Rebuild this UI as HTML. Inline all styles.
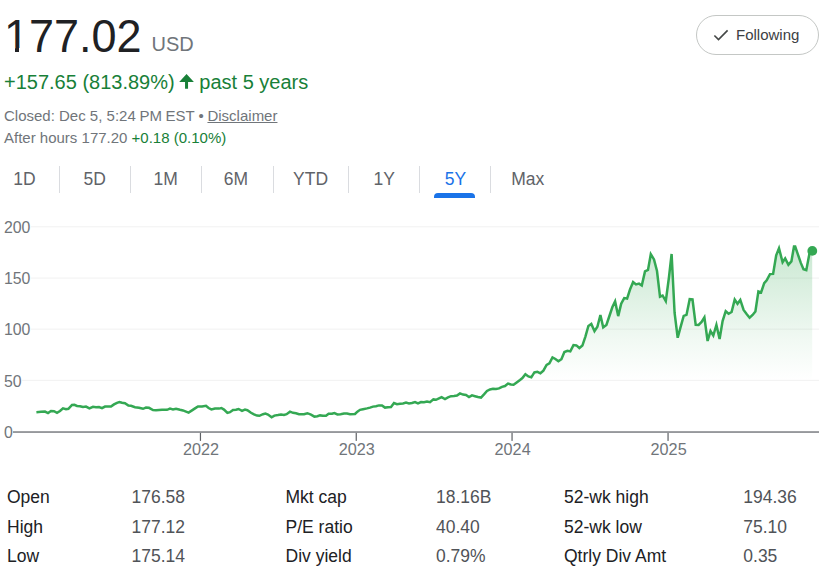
<!DOCTYPE html>
<html><head><meta charset="utf-8"><title>Stock</title>
<style>
html,body{margin:0;padding:0;background:#fff;}
body{width:825px;height:574px;position:relative;overflow:hidden;font-family:"Liberation Sans",sans-serif;}
.t{position:absolute;white-space:nowrap;line-height:1;}
.sep{position:absolute;width:1.25px;background:#dadce0;top:166px;height:27px;}
a{color:inherit;}
</style></head><body>

<div class="t" style="left:4px;top:13.51px;font-size:45px;color:#202124;transform:scaleY(1.041);transform-origin:0 38.09px;">177.02</div>
<div style="position:absolute;left:5px;top:47.6px;width:10.4px;height:5px;background:#fff"></div><div style="position:absolute;left:19.4px;top:47.6px;width:9.6px;height:5px;background:#fff"></div>
<div class="t" style="left:151.5px;top:34.47px;font-size:20px;color:#70757a;transform:scaleY(1.041);transform-origin:0 16.93px;">USD</div>
<div class="t" style="left:4px;top:72.07px;font-size:20px;color:#188038;transform:scaleY(1.041);transform-origin:0 16.93px;">+157.65 (813.89%)</div>
<svg style="position:absolute;left:170px;top:65px" width="40" height="30" viewBox="170 65 40 30"><path d="M179.2 81.9 L186.55 74.0 L193.9 81.9 L188.05 81.9 L188.05 88.8 L185.05 88.8 L185.05 81.9 Z" fill="#188038"/></svg>
<div class="t" style="left:199.3px;top:72.07px;font-size:20px;color:#188038;">past 5 years</div>
<div class="t" style="left:4px;top:108.10px;font-size:15px;color:#70757a;">Closed: Dec 5, <span style="word-spacing:-0.5px">5:24 PM EST</span><span style="margin:0 -0.4px 0 -0.5px"> • </span><span style="text-decoration:underline">Disclaimer</span></div>
<div class="t" style="left:4px;top:129.70px;font-size:15px;color:#70757a;">After hours 177.20 <span style="color:#188038">+0.18 (0.10%)</span></div>
<div style="position:absolute;left:696px;top:15px;width:121px;height:38px;border:1px solid #c4c7c5;border-radius:20px;box-sizing:content-box"></div>
<svg style="position:absolute;left:712px;top:27px" width="18" height="16" viewBox="0 0 18 16"><path d="M2.4 8.5 L6.5 12.6 L15.6 3.4" fill="none" stroke="#444746" stroke-width="1.6"/></svg>
<div class="t" style="left:736px;top:26.60px;font-size:15px;color:#3c4043;">Following</div>
<div class="t" style="left:13.3px;top:171.09px;font-size:17.5px;color:#5f6368;transform:scaleY(1.041);transform-origin:0 14.81px;">1D</div>
<div class="t" style="left:83.6px;top:171.09px;font-size:17.5px;color:#5f6368;transform:scaleY(1.041);transform-origin:0 14.81px;">5D</div>
<div class="t" style="left:153.6px;top:171.09px;font-size:17.5px;color:#5f6368;transform:scaleY(1.041);transform-origin:0 14.81px;">1M</div>
<div class="t" style="left:223.8px;top:171.09px;font-size:17.5px;color:#5f6368;transform:scaleY(1.041);transform-origin:0 14.81px;">6M</div>
<div class="t" style="left:293.1px;top:171.09px;font-size:17.5px;color:#5f6368;transform:scaleY(1.041);transform-origin:0 14.81px;">YTD</div>
<div class="t" style="left:373.5px;top:171.09px;font-size:17.5px;color:#5f6368;transform:scaleY(1.041);transform-origin:0 14.81px;">1Y</div>
<div class="t" style="left:444.8px;top:171.09px;font-size:17.5px;color:#1a73e8;transform:scaleY(1.041);transform-origin:0 14.81px;">5Y</div>
<div class="t" style="left:511.2px;top:171.09px;font-size:17.5px;color:#5f6368;">Max</div>
<div class="sep" style="left:58.7px"></div>
<div class="sep" style="left:129.7px"></div>
<div class="sep" style="left:200.7px"></div>
<div class="sep" style="left:272.7px"></div>
<div class="sep" style="left:347.9px"></div>
<div class="sep" style="left:418.9px"></div>
<div class="sep" style="left:489.8px"></div>
<div style="position:absolute;left:434.4px;top:193.3px;width:40.3px;height:4.4px;background:#1a73e8;border-radius:4px 4px 0 0"></div>
<svg style="position:absolute;left:0;top:0" width="825" height="574" viewBox="0 0 825 574">
<defs><linearGradient id="g" x1="0" y1="244" x2="0" y2="380" gradientUnits="userSpaceOnUse"><stop offset="0" stop-color="#34a853" stop-opacity="0.27"/><stop offset="0.7" stop-color="#34a853" stop-opacity="0.07"/><stop offset="1" stop-color="#34a853" stop-opacity="0"/></linearGradient></defs>
<rect x="4" y="226.2" width="815" height="1.15" fill="#f3f3f3"/>
<rect x="4" y="277.5" width="815" height="1.15" fill="#f3f3f3"/>
<rect x="4" y="328.6" width="815" height="1.15" fill="#f3f3f3"/>
<rect x="4" y="379.8" width="815" height="1.15" fill="#f3f3f3"/>
<path d="M36.4 412.2 L41.0 411.8 L45.0 411.6 L48.0 413.1 L51.0 411.0 L54.0 411.2 L57.0 412.8 L60.0 411.0 L63.0 408.3 L66.0 409.2 L68.4 408.8 L72.0 405.0 L74.4 404.8 L77.0 406.0 L80.0 406.2 L83.0 407.0 L86.0 406.6 L89.4 408.4 L93.0 406.8 L96.0 407.2 L99.0 407.0 L102.0 408.2 L105.0 406.6 L111.0 406.6 L114.0 404.4 L117.0 402.8 L119.4 402.0 L122.0 402.8 L125.0 403.2 L128.4 405.6 L131.0 405.8 L135.0 407.2 L139.0 407.8 L143.0 408.8 L146.0 407.6 L149.0 407.8 L153.0 410.0 L156.0 410.2 L162.0 409.8 L167.0 409.8 L170.0 408.6 L173.0 409.4 L176.0 408.8 L180.0 409.8 L183.0 410.4 L186.0 411.6 L188.6 412.6 L192.0 410.4 L195.0 408.4 L198.0 406.4 L202.0 406.4 L206.0 405.8 L208.6 408.0 L211.4 409.4 L215.0 408.6 L219.0 408.6 L221.4 408.0 L224.0 409.6 L227.4 412.9 L230.0 412.2 L233.0 410.0 L236.0 409.8 L238.6 409.0 L242.0 410.8 L245.0 409.6 L247.4 410.2 L251.0 412.8 L254.0 414.4 L257.0 415.6 L259.4 415.8 L263.0 414.2 L265.4 413.6 L268.0 414.6 L271.6 417.3 L274.4 415.6 L278.0 415.0 L281.0 414.4 L284.0 415.0 L286.6 414.2 L290.0 411.7 L293.0 412.8 L296.0 413.2 L299.0 414.2 L304.0 414.2 L307.4 413.2 L311.0 414.6 L314.4 416.6 L317.4 416.2 L320.0 415.4 L323.0 415.8 L326.0 415.8 L328.6 413.8 L332.0 413.8 L334.4 413.0 L337.4 414.4 L340.6 414.2 L344.0 413.6 L347.0 413.6 L350.0 414.2 L355.0 414.0 L357.4 411.6 L360.0 409.8 L363.0 409.2 L367.0 408.4 L370.0 407.6 L373.0 406.6 L376.0 406.2 L379.0 405.4 L382.0 405.4 L385.0 407.6 L388.0 407.2 L391.0 407.0 L394.0 403.1 L397.0 404.2 L400.0 403.8 L403.0 403.4 L406.0 402.6 L409.0 403.4 L412.0 403.0 L415.0 402.0 L418.0 403.4 L421.0 402.0 L424.0 402.2 L427.0 401.6 L430.0 402.2 L433.4 399.4 L436.0 399.8 L439.0 398.4 L441.6 397.2 L445.0 399.0 L448.0 397.4 L451.0 396.2 L454.0 396.0 L457.0 395.6 L460.0 393.4 L463.0 394.6 L466.0 395.0 L469.0 397.1 L472.0 395.4 L475.0 396.2 L478.0 397.0 L481.0 397.6 L484.0 394.4 L487.0 391.0 L490.0 389.4 L493.0 388.8 L496.0 389.0 L499.0 388.4 L502.0 386.8 L505.0 386.0 L508.0 383.6 L511.0 384.4 L513.6 384.8 L517.0 382.2 L520.0 380.0 L522.4 378.1 L525.4 374.2 L528.4 376.4 L531.3 377.3 L534.4 372.4 L537.4 371.8 L540.4 373.3 L543.4 370.6 L546.6 365.0 L549.4 363.4 L552.5 357.5 L555.4 359.0 L558.4 361.3 L561.4 359.2 L564.4 352.0 L567.4 350.8 L570.3 351.4 L573.5 345.1 L576.4 345.4 L579.4 348.0 L582.4 345.6 L585.4 336.6 L588.4 326.0 L591.3 324.0 L594.5 331.2 L597.4 326.8 L600.4 315.0 L603.2 327.3 L606.4 325.0 L609.4 316.0 L612.4 307.0 L615.1 301.4 L618.2 316.1 L621.2 303.6 L624.2 298.1 L627.1 298.6 L630.0 289.5 L633.1 282.0 L636.0 284.4 L639.0 283.6 L641.8 285.5 L645.0 271.4 L648.0 270.0 L650.8 254.2 L654.0 259.4 L657.0 271.0 L660.0 296.7 L662.6 295.5 L665.8 301.2 L669.0 277.0 L671.6 254.0 L674.6 313.0 L677.7 337.8 L680.7 326.6 L683.7 315.9 L686.5 314.9 L689.7 299.2 L692.5 299.5 L695.7 324.9 L698.6 325.0 L701.6 322.0 L704.4 317.4 L707.6 341.0 L710.5 331.1 L713.3 335.5 L716.4 325.0 L719.6 339.0 L722.6 321.0 L725.7 311.2 L728.6 313.8 L731.6 312.0 L734.7 299.6 L737.5 303.8 L740.3 299.9 L743.6 310.0 L746.6 314.0 L749.6 317.7 L752.6 315.0 L755.4 311.4 L758.4 291.4 L761.1 292.4 L764.2 283.2 L766.7 280.3 L770.0 274.1 L773.1 273.9 L776.2 255.3 L779.0 248.2 L782.6 262.3 L785.2 258.4 L788.4 264.7 L791.4 261.4 L794.0 246.5 L795.2 246.5 L797.7 253.8 L800.8 262.9 L803.5 269.2 L806.3 270.2 L809.4 253.8 L812.2 250.9 L812.2 432.0 L36.4 432.0 Z" fill="url(#g)"/>
<rect x="13" y="431.1" width="806" height="1.9" fill="#96989c"/>
<rect x="199.85" y="432.9" width="1.2" height="8.0" fill="#5f6266"/>
<rect x="355.65" y="432.9" width="1.2" height="8.0" fill="#5f6266"/>
<rect x="511.45" y="432.9" width="1.2" height="8.0" fill="#5f6266"/>
<rect x="667.45" y="432.9" width="1.2" height="8.0" fill="#5f6266"/>
<path d="M36.4 412.2 L41.0 411.8 L45.0 411.6 L48.0 413.1 L51.0 411.0 L54.0 411.2 L57.0 412.8 L60.0 411.0 L63.0 408.3 L66.0 409.2 L68.4 408.8 L72.0 405.0 L74.4 404.8 L77.0 406.0 L80.0 406.2 L83.0 407.0 L86.0 406.6 L89.4 408.4 L93.0 406.8 L96.0 407.2 L99.0 407.0 L102.0 408.2 L105.0 406.6 L111.0 406.6 L114.0 404.4 L117.0 402.8 L119.4 402.0 L122.0 402.8 L125.0 403.2 L128.4 405.6 L131.0 405.8 L135.0 407.2 L139.0 407.8 L143.0 408.8 L146.0 407.6 L149.0 407.8 L153.0 410.0 L156.0 410.2 L162.0 409.8 L167.0 409.8 L170.0 408.6 L173.0 409.4 L176.0 408.8 L180.0 409.8 L183.0 410.4 L186.0 411.6 L188.6 412.6 L192.0 410.4 L195.0 408.4 L198.0 406.4 L202.0 406.4 L206.0 405.8 L208.6 408.0 L211.4 409.4 L215.0 408.6 L219.0 408.6 L221.4 408.0 L224.0 409.6 L227.4 412.9 L230.0 412.2 L233.0 410.0 L236.0 409.8 L238.6 409.0 L242.0 410.8 L245.0 409.6 L247.4 410.2 L251.0 412.8 L254.0 414.4 L257.0 415.6 L259.4 415.8 L263.0 414.2 L265.4 413.6 L268.0 414.6 L271.6 417.3 L274.4 415.6 L278.0 415.0 L281.0 414.4 L284.0 415.0 L286.6 414.2 L290.0 411.7 L293.0 412.8 L296.0 413.2 L299.0 414.2 L304.0 414.2 L307.4 413.2 L311.0 414.6 L314.4 416.6 L317.4 416.2 L320.0 415.4 L323.0 415.8 L326.0 415.8 L328.6 413.8 L332.0 413.8 L334.4 413.0 L337.4 414.4 L340.6 414.2 L344.0 413.6 L347.0 413.6 L350.0 414.2 L355.0 414.0 L357.4 411.6 L360.0 409.8 L363.0 409.2 L367.0 408.4 L370.0 407.6 L373.0 406.6 L376.0 406.2 L379.0 405.4 L382.0 405.4 L385.0 407.6 L388.0 407.2 L391.0 407.0 L394.0 403.1 L397.0 404.2 L400.0 403.8 L403.0 403.4 L406.0 402.6 L409.0 403.4 L412.0 403.0 L415.0 402.0 L418.0 403.4 L421.0 402.0 L424.0 402.2 L427.0 401.6 L430.0 402.2 L433.4 399.4 L436.0 399.8 L439.0 398.4 L441.6 397.2 L445.0 399.0 L448.0 397.4 L451.0 396.2 L454.0 396.0 L457.0 395.6 L460.0 393.4 L463.0 394.6 L466.0 395.0 L469.0 397.1 L472.0 395.4 L475.0 396.2 L478.0 397.0 L481.0 397.6 L484.0 394.4 L487.0 391.0 L490.0 389.4 L493.0 388.8 L496.0 389.0 L499.0 388.4 L502.0 386.8 L505.0 386.0 L508.0 383.6 L511.0 384.4 L513.6 384.8 L517.0 382.2 L520.0 380.0 L522.4 378.1 L525.4 374.2 L528.4 376.4 L531.3 377.3 L534.4 372.4 L537.4 371.8 L540.4 373.3 L543.4 370.6 L546.6 365.0 L549.4 363.4 L552.5 357.5 L555.4 359.0 L558.4 361.3 L561.4 359.2 L564.4 352.0 L567.4 350.8 L570.3 351.4 L573.5 345.1 L576.4 345.4 L579.4 348.0 L582.4 345.6 L585.4 336.6 L588.4 326.0 L591.3 324.0 L594.5 331.2 L597.4 326.8 L600.4 315.0 L603.2 327.3 L606.4 325.0 L609.4 316.0 L612.4 307.0 L615.1 301.4 L618.2 316.1 L621.2 303.6 L624.2 298.1 L627.1 298.6 L630.0 289.5 L633.1 282.0 L636.0 284.4 L639.0 283.6 L641.8 285.5 L645.0 271.4 L648.0 270.0 L650.8 254.2 L654.0 259.4 L657.0 271.0 L660.0 296.7 L662.6 295.5 L665.8 301.2 L669.0 277.0 L671.6 254.0 L674.6 313.0 L677.7 337.8 L680.7 326.6 L683.7 315.9 L686.5 314.9 L689.7 299.2 L692.5 299.5 L695.7 324.9 L698.6 325.0 L701.6 322.0 L704.4 317.4 L707.6 341.0 L710.5 331.1 L713.3 335.5 L716.4 325.0 L719.6 339.0 L722.6 321.0 L725.7 311.2 L728.6 313.8 L731.6 312.0 L734.7 299.6 L737.5 303.8 L740.3 299.9 L743.6 310.0 L746.6 314.0 L749.6 317.7 L752.6 315.0 L755.4 311.4 L758.4 291.4 L761.1 292.4 L764.2 283.2 L766.7 280.3 L770.0 274.1 L773.1 273.9 L776.2 255.3 L779.0 248.2 L782.6 262.3 L785.2 258.4 L788.4 264.7 L791.4 261.4 L794.0 246.5 L795.2 246.5 L797.7 253.8 L800.8 262.9 L803.5 269.2 L806.3 270.2 L809.4 253.8 L812.2 250.9" fill="none" stroke="#34a853" stroke-width="2.5" stroke-linejoin="miter" stroke-miterlimit="4" stroke-linecap="butt"/>
<circle cx="812.3" cy="250.9" r="4.9" fill="#34a853"/>
</svg>
<div class="t" style="left:3.5px;top:219.88px;font-size:15.85px;color:#70757a;background:#fff;padding:0 0.9px 0 0.5px;left:3.4px;transform:scaleY(1.041);transform-origin:0 13.42px;">200</div>
<div class="t" style="left:3.5px;top:270.88px;font-size:15.85px;color:#70757a;background:#fff;padding:0 0.9px 0 0.5px;left:3.4px;transform:scaleY(1.041);transform-origin:0 13.42px;">150</div>
<div class="t" style="left:3.5px;top:321.88px;font-size:15.85px;color:#70757a;background:#fff;padding:0 0.9px 0 0.5px;left:3.4px;transform:scaleY(1.041);transform-origin:0 13.42px;">100</div>
<div class="t" style="left:3.5px;top:373.88px;font-size:15.85px;color:#70757a;background:#fff;padding:0 0.9px 0 0.5px;left:3.4px;transform:scaleY(1.041);transform-origin:0 13.42px;">50</div>
<div class="t" style="left:3.9px;top:424.98px;font-size:15.85px;color:#70757a;transform:scaleY(1.041);transform-origin:0 13.42px;">0</div>
<div class="t" style="left:182.95000000000002px;top:441.14px;font-size:16.25px;color:#70757a;transform:scaleY(1.041);transform-origin:0 13.76px;">2022</div>
<div class="t" style="left:338.75px;top:441.14px;font-size:16.25px;color:#70757a;transform:scaleY(1.041);transform-origin:0 13.76px;">2023</div>
<div class="t" style="left:494.55px;top:441.14px;font-size:16.25px;color:#70757a;transform:scaleY(1.041);transform-origin:0 13.76px;">2024</div>
<div class="t" style="left:650.55px;top:441.14px;font-size:16.25px;color:#70757a;transform:scaleY(1.041);transform-origin:0 13.76px;">2025</div>
<div class="t" style="left:7px;top:489.19px;font-size:17.5px;color:#202124;">Open</div>
<div class="t" style="left:7px;top:518.69px;font-size:17.5px;color:#202124;">High</div>
<div class="t" style="left:7px;top:547.99px;font-size:17.5px;color:#202124;">Low</div>
<div class="t" style="left:131.5px;top:489.19px;font-size:17.5px;color:#505358;transform:scaleY(1.041);transform-origin:0 14.81px;">176.58</div>
<div class="t" style="left:131.5px;top:518.69px;font-size:17.5px;color:#505358;transform:scaleY(1.041);transform-origin:0 14.81px;">177.12</div>
<div class="t" style="left:131.5px;top:547.99px;font-size:17.5px;color:#505358;transform:scaleY(1.041);transform-origin:0 14.81px;">175.14</div>
<div class="t" style="left:285.5px;top:489.19px;font-size:17.5px;color:#202124;">Mkt cap</div>
<div class="t" style="left:285.5px;top:518.69px;font-size:17.5px;color:#202124;">P/E ratio</div>
<div class="t" style="left:285.5px;top:547.99px;font-size:17.5px;color:#202124;">Div yield</div>
<div class="t" style="left:436px;top:489.19px;font-size:17.5px;color:#505358;transform:scaleY(1.041);transform-origin:0 14.81px;">18.16B</div>
<div class="t" style="left:436px;top:518.69px;font-size:17.5px;color:#505358;transform:scaleY(1.041);transform-origin:0 14.81px;">40.40</div>
<div class="t" style="left:436px;top:547.99px;font-size:17.5px;color:#505358;transform:scaleY(1.041);transform-origin:0 14.81px;">0.79%</div>
<div class="t" style="left:564.0px;top:489.19px;font-size:17.5px;color:#202124;">52-wk high</div>
<div class="t" style="left:564.0px;top:518.69px;font-size:17.5px;color:#202124;">52-wk low</div>
<div class="t" style="left:564.0px;top:547.99px;font-size:17.5px;color:#202124;">Qtrly Div Amt</div>
<div class="t" style="left:743.3px;top:489.19px;font-size:17.5px;color:#505358;transform:scaleY(1.041);transform-origin:0 14.81px;">194.36</div>
<div class="t" style="left:743.3px;top:518.69px;font-size:17.5px;color:#505358;transform:scaleY(1.041);transform-origin:0 14.81px;">75.10</div>
<div class="t" style="left:743.3px;top:547.99px;font-size:17.5px;color:#505358;transform:scaleY(1.041);transform-origin:0 14.81px;">0.35</div>
</body></html>
